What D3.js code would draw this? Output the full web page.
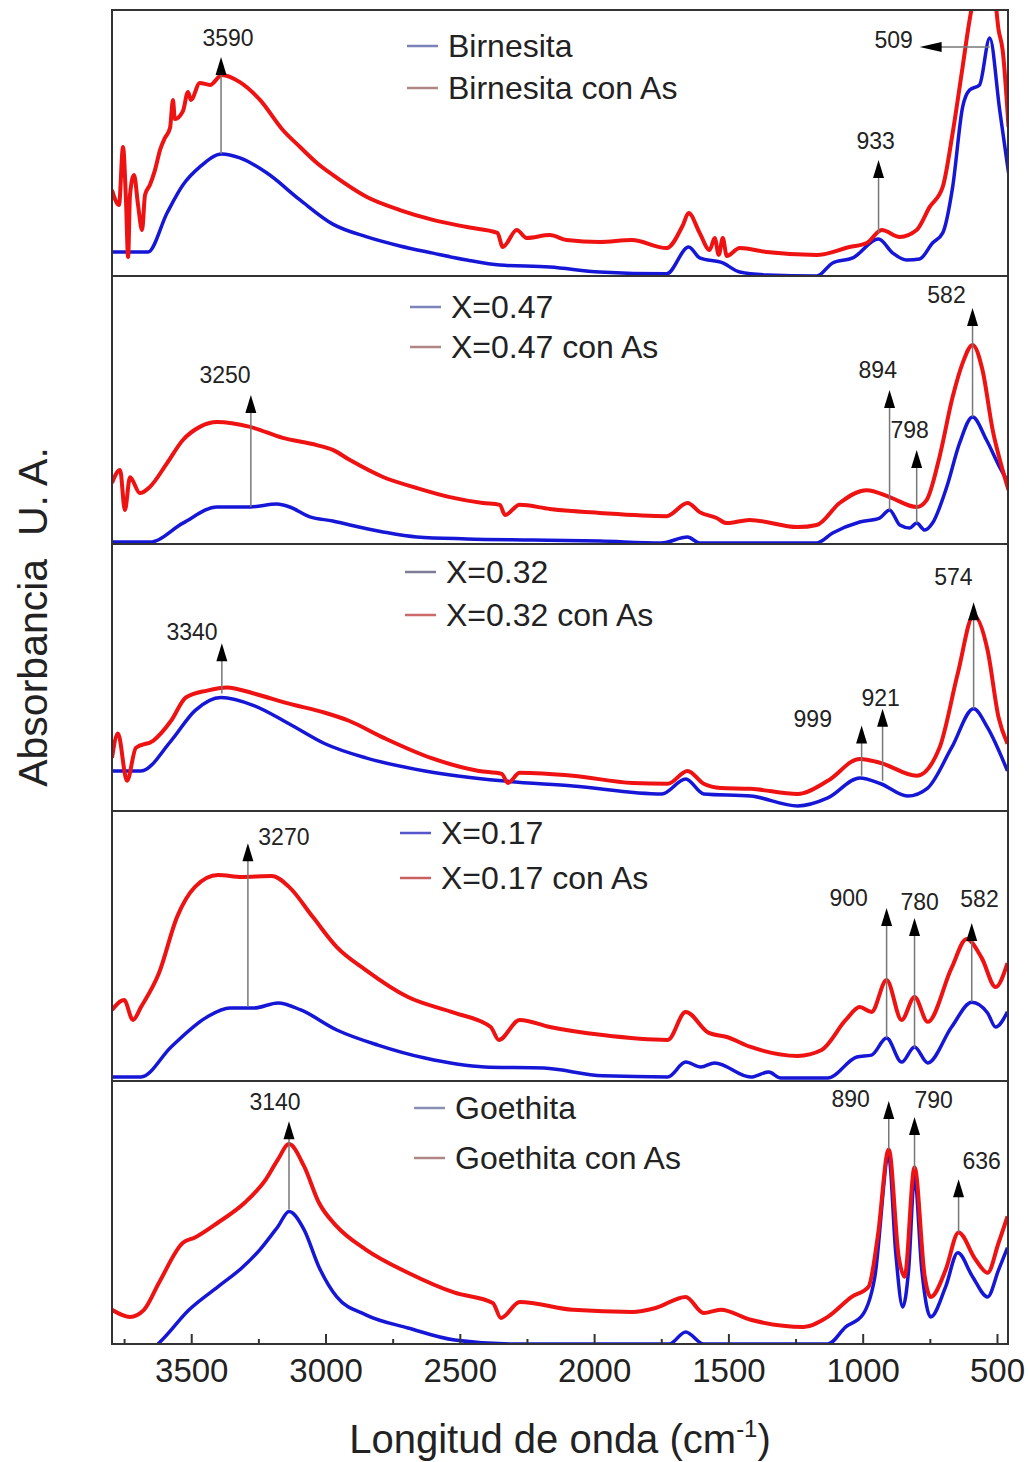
<!DOCTYPE html>
<html>
<head>
<meta charset="utf-8">
<script src="https://cdn.jsdelivr.net/npm/d3@7"></script>
<style>
  body { margin: 0; background: #fff; }
  text { font-family: "Liberation Sans", Arial, sans-serif; fill: #222; }
</style>
</head>
<body>
<svg id="chart" width="1029" height="1462"></svg>
<script>
// Spectra: [wavenumber (cm-1), absorbance (a.u., per panel)]
const birnesita = [[3795,.09],[3661,.09],[3590,.237],[3531,.342],[3468,.41],[3386,.459],[3319,.444],[3218,.387],[3095,.286],[2973,.195],[2846,.147],[2723,.113],[2600,.086],[2474,.06],[2351,.041],[2165,.034],[1979,.015],[1730,.008],[1648,.109],[1607,.068],[1521,.049],[1458,.015],[1357,.004],[1171,0],[1112,.049],[1037,.068],[941,.139],[888,.086],[836,.06],[788,.064],[740,.124],[702,.162],[665,.335],[628,.635],[602,.699],[565,.718],[527,.895],[490,.624],[457,.387]];
const birnesitaAs = [[3795,.323],[3769,.267],[3754,.485],[3743,.286],[3735,.071],[3728,.305],[3713,.38],[3698,.267],[3683,.173],[3672,.305],[3654,.342],[3635,.398],[3616,.474],[3598,.519],[3579,.556],[3568,.662],[3561,.59],[3531,.62],[3512,.692],[3501,.662],[3468,.726],[3430,.718],[3386,.756],[3319,.729],[3244,.662],[3159,.549],[3095,.485],[3032,.425],[2973,.38],[2846,.297],[2723,.248],[2600,.211],[2474,.184],[2360,.162],[2340,.109],[2288,.173],[2251,.143],[2165,.154],[2102,.135],[1979,.128],[1860,.135],[1730,.105],[1670,.19],[1648,.237],[1607,.162],[1570,.098],[1551,.143],[1536,.079],[1521,.143],[1506,.075],[1458,.105],[1357,.09],[1171,.079],[1049,.109],[985,.124],[929,.173],[862,.147],[799,.173],[751,.259],[702,.335],[665,.538],[628,.786],[602,.962],[576,1.09],[546,1.13],[516,1.11],[494,.925],[479,.85],[457,.56]];

const x47 = [[3795,.007],[3654,.007],[3531,.078],[3404,.138],[3281,.138],[3181,.149],[3133,.138],[3058,.101],[2973,.086],[2909,.071],[2786,.045],[2660,.026],[2474,.019],[2228,.015],[1979,.011],[1750,.004],[1652,.026],[1607,.004],[1171,.004],[1112,.041],[1011,.082],[937,.097],[900,.127],[862,.071],[825,.06],[799,.078],[769,.052],[740,.078],[687,.213],[639,.377],[591,.474],[539,.388],[490,.287],[457,.228]];
const x47As = [[3795,.228],[3765,.276],[3747,.127],[3728,.249],[3691,.19],[3654,.213],[3590,.302],[3531,.388],[3468,.437],[3404,.455],[3281,.437],[3159,.396],[3032,.369],[2973,.351],[2909,.313],[2786,.25],[2660,.209],[2537,.175],[2414,.153],[2351,.146],[2332,.108],[2277,.146],[2165,.131],[1979,.116],[1730,.104],[1652,.153],[1607,.119],[1544,.097],[1506,.078],[1421,.09],[1242,.063],[1171,.071],[1086,.153],[985,.201],[900,.175],[799,.138],[762,.164],[714,.325],[665,.549],[628,.675],[591,.743],[554,.649],[516,.425],[479,.276],[457,.201]];

const x32 = [[3795,.15],[3687,.15],[3575,.263],[3486,.376],[3389,.425],[3267,.395],[3136,.327],[3002,.252],[2850,.199],[2630,.15],[2344,.113],[2079,.094],[1748,.064],[1659,.12],[1592,.064],[1417,.056],[1242,.019],[1130,.049],[1011,.124],[933,.102],[833,.056],[758,.086],[669,.237],[587,.383],[535,.312],[461,.15]];
const x32As = [[3795,.199],[3773,.29],[3739,.113],[3706,.237],[3642,.263],[3575,.338],[3520,.425],[3441,.451],[3367,.463],[3267,.44],[3136,.402],[3002,.368],[2913,.338],[2783,.274],[2608,.199],[2429,.15],[2344,.139],[2321,.105],[2277,.143],[2079,.132],[1857,.105],[1726,.102],[1652,.15],[1592,.102],[1529,.086],[1417,.083],[1242,.064],[1130,.113],[1011,.195],[933,.18],[799,.132],[714,.237],[646,.515],[587,.733],[535,.602],[494,.35],[461,.252]];

const x17 = [[3795,.015],[3687,.015],[3575,.126],[3441,.237],[3356,.27],[3267,.27],[3177,.289],[3092,.263],[2958,.189],[2805,.133],[2630,.085],[2407,.052],[2187,.048],[1968,.019],[1726,.015],[1659,.07],[1603,.052],[1551,.067],[1417,.015],[1350,.033],[1305,.011],[1130,.011],[1022,.089],[967,.096],[911,.159],[855,.07],[807,.126],[758,.067],[669,.2],[594,.292],[535,.252],[505,.2],[461,.256]];
const x17As = [[3795,.263],[3750,.3],[3717,.226],[3687,.274],[3620,.4],[3553,.607],[3486,.719],[3400,.763],[3311,.756],[3200,.759],[3136,.719],[3047,.607],[2958,.496],[2850,.411],[2693,.311],[2519,.252],[2385,.2],[2355,.152],[2277,.226],[2165,.2],[1968,.17],[1726,.152],[1659,.256],[1573,.178],[1506,.163],[1417,.126],[1242,.093],[1153,.115],[1063,.226],[1011,.274],[967,.256],[911,.374],[855,.226],[807,.311],[758,.219],[669,.419],[613,.526],[557,.456],[505,.348],[461,.437]];

const goethita = [[3706,-.06],[3620,.004],[3508,.13],[3400,.218],[3311,.29],[3244,.359],[3177,.447],[3136,.504],[3080,.435],[3025,.294],[2958,.179],[2850,.111],[2693,.061],[2519,.015],[2299,0],[1720,0],[1659,.046],[1592,0],[1130,0],[1063,.065],[1000,.111],[955,.254],[903,.712],[877,.347],[851,.141],[829,.282],[807,.637],[780,.282],[747,.103],[691,.218],[646,.347],[591,.256],[535,.179],[494,.282],[461,.366]];
const goethitaAs = [[3795,.13],[3728,.103],[3676,.13],[3620,.233],[3531,.385],[3486,.405],[3400,.462],[3300,.538],[3222,.626],[3177,.702],[3136,.76],[3080,.676],[3025,.538],[2958,.447],[2850,.359],[2693,.271],[2519,.195],[2377,.156],[2347,.099],[2277,.16],[2079,.13],[1857,.122],[1771,.137],[1659,.179],[1592,.118],[1529,.13],[1417,.092],[1220,.065],[1130,.103],[1041,.179],[978,.218],[944,.408],[903,.74],[866,.332],[844,.256],[807,.672],[769,.256],[747,.179],[691,.282],[643,.424],[580,.321],[535,.271],[494,.385],[461,.485]];

// Legend names per panel
const legendNames = [
  ["Birnesita", "Birnesita con As"],
  ["X=0.47", "X=0.47 con As"],
  ["X=0.32", "X=0.32 con As"],
  ["X=0.17", "X=0.17 con As"],
  ["Goethita", "Goethita con As"]
];

// Peak marks: [label, arrow wavenumber, base abs, tip abs, label wavenumber, label abs]
const notes1 = [["3590",3389,.459,.823,3363,.895],["933",941,.162,.436,952,.508]];
const notes2 = [["3250",3278,.138,.556,3374,.631],["894",900,.127,.575,944,.649],["798",799,.078,.351,825,.425],["582",591,.474,.881,688,.929]];
const notes3 = [["3340",3386,.44,.628,3497,.669],["999",1004,.132,.32,1186,.346],["921",926,.113,.383,933,.425],["574",587,.383,.782,662,.876]];
const notes4 = [["3270",3289,.274,.881,3155,.904],["900",911,.159,.641,1052,.678],["780",807,.122,.604,788,.663],["582",594,.293,.585,565,.674]];
const notes5 = [["3140",3136,.511,.847,3188,.92],["890",903,.74,.924,1045,.931],["790",807,.664,.863,736,.927],["636",643,.424,.626,557,.695]];
// horizontal mark in panel 1: [label, from wn, to wn, abs, label wn, label abs]
const hNote1 = ["509", 527, 788, .861, 885, .887];

const majorTicks = [3500, 3000, 2500, 2000, 1500, 1000, 500];
const minorTicks = [3750, 3250, 2750, 2250, 1750, 1250, 750];

// Layout
const left = 112, right = 1008;
const panels = [
  { top: 10,   bottom: 276,  series: [birnesita, birnesitaAs], notes: notes1, legY: [46, 88],    legX: 407, mk: ["#7c83b8", "#b08585"] },
  { top: 276,  bottom: 544,  series: [x47, x47As],             notes: notes2, legY: [307, 347],  legX: 410, mk: ["#7c83b8", "#b08585"] },
  { top: 544,  bottom: 811,  series: [x32, x32As],             notes: notes3, legY: [572, 615],  legX: 405, mk: ["#7c7c96", "#cc6a6a"] },
  { top: 811,  bottom: 1081, series: [x17, x17As],             notes: notes4, legY: [833, 878],  legX: 400, mk: ["#5555cc", "#c86060"] },
  { top: 1081, bottom: 1344, series: [goethita, goethitaAs],   notes: notes5, legY: [1108, 1158], legX: 414, mk: ["#8a8fb5", "#b08585"] }
];
const colors = ["#1616d6", "#ee1212"];
const widths = [3.5, 4];

const svg = d3.select("#chart");

const x = d3.scaleLinear().domain([3795, 459]).range([left, right]);

const defs = svg.append("defs");

panels.forEach(function(p, i) {
  const y = d3.scaleLinear().domain([0, 1]).range([p.bottom, p.top]);
  const g = svg.append("g");

  defs.append("clipPath").attr("id", "clip" + i)
    .append("rect")
    .attr("x", left).attr("y", p.top)
    .attr("width", right - left).attr("height", p.bottom - p.top);

  const line = d3.line()
    .x(d => x(d[0]))
    .y(d => y(d[1]))
    .curve(d3.curveMonotoneX);

  // spectra
  const curves = g.append("g").attr("clip-path", "url(#clip" + i + ")");
  p.series.forEach(function(s, k) {
    curves.append("path")
      .datum(s)
      .attr("d", line)
      .attr("fill", "none")
      .attr("stroke", colors[k])
      .attr("stroke-width", widths[k])
      .attr("stroke-linejoin", "round");
  });

  // peak arrows
  p.notes.forEach(function(n) {
    const ax = x(n[1]), yb = y(n[2]), yt = y(n[3]);
    g.append("line")
      .attr("x1", ax).attr("x2", ax)
      .attr("y1", yb).attr("y2", yt + 14)
      .attr("stroke", "#777").attr("stroke-width", 1.5);
    g.append("path")
      .attr("d", `M${ax},${yt} L${ax - 5.5},${yt + 18} L${ax + 5.5},${yt + 18} Z`)
      .attr("fill", "#000");
    g.append("text")
      .attr("x", x(n[4])).attr("y", y(n[5]))
      .attr("text-anchor", "middle")
      .attr("dominant-baseline", "central")
      .style("font-size", "23px")
      .text(n[0]);
  });

  // legend
  legendNames[i].forEach(function(name, k) {
    g.append("line")
      .attr("x1", p.legX).attr("x2", p.legX + 31)
      .attr("y1", p.legY[k]).attr("y2", p.legY[k])
      .attr("stroke", p.mk[k]).attr("stroke-width", 2.5);
    g.append("text")
      .attr("x", p.legX + 41).attr("y", p.legY[k])
      .attr("dominant-baseline", "central")
      .style("font-size", "32px")
      .text(name);
  });

  // frame
  g.append("rect")
    .attr("x", left).attr("y", p.top)
    .attr("width", right - left).attr("height", p.bottom - p.top)
    .attr("fill", "none").attr("stroke", "#333").attr("stroke-width", 2);
});

// horizontal arrow (509) in the first panel
(function() {
  const p = panels[0];
  const y = d3.scaleLinear().domain([0, 1]).range([p.bottom, p.top]);
  const x0 = x(hNote1[1]), x1 = x(hNote1[2]), yy = y(hNote1[3]);
  svg.append("line")
    .attr("x1", x0).attr("x2", x1 + 18)
    .attr("y1", yy).attr("y2", yy)
    .attr("stroke", "#777").attr("stroke-width", 1.5);
  svg.append("path")
    .attr("d", `M${x1},${yy} L${x1 + 22},${yy - 5} L${x1 + 22},${yy + 5} Z`)
    .attr("fill", "#000");
  svg.append("text")
    .attr("x", x(hNote1[4])).attr("y", y(hNote1[5]))
    .attr("text-anchor", "middle")
    .attr("dominant-baseline", "central")
    .style("font-size", "23px")
    .text(hNote1[0]);
})();

// bottom axis
const axisY = panels[panels.length - 1].bottom;
const major = svg.append("g")
  .attr("transform", "translate(0," + axisY + ")")
  .call(d3.axisBottom(x).tickValues(majorTicks).tickSizeInner(-10).tickSizeOuter(0).tickPadding(15).tickFormat(d3.format("d")));
major.select(".domain").remove();
major.selectAll("line").attr("stroke", "#333").attr("stroke-width", 2);
major.selectAll("text").style("font-size", "33px").style("font-family", "Liberation Sans, Arial, sans-serif").attr("fill", "#222");

const minor = svg.append("g")
  .attr("transform", "translate(0," + axisY + ")")
  .call(d3.axisBottom(x).tickValues(minorTicks).tickSizeInner(-5).tickSizeOuter(0).tickFormat(""));
minor.select(".domain").remove();
minor.selectAll("line").attr("stroke", "#333").attr("stroke-width", 2);

// axis titles
const xt = svg.append("text")
  .attr("x", 560).attr("y", 1453)
  .attr("text-anchor", "middle")
  .style("font-size", "40px");
xt.append("tspan").text("Longitud de onda (cm");
xt.append("tspan").attr("dy", -16).style("font-size", "24px").text("-1");
xt.append("tspan").attr("dy", 16).text(")");

svg.append("text")
  .attr("transform", "translate(47,617) rotate(-90)")
  .attr("text-anchor", "middle")
  .style("font-size", "41px")
  .attr("xml:space", "preserve")
  .text("Absorbancia  U. A.");
</script>
</body>
</html>
